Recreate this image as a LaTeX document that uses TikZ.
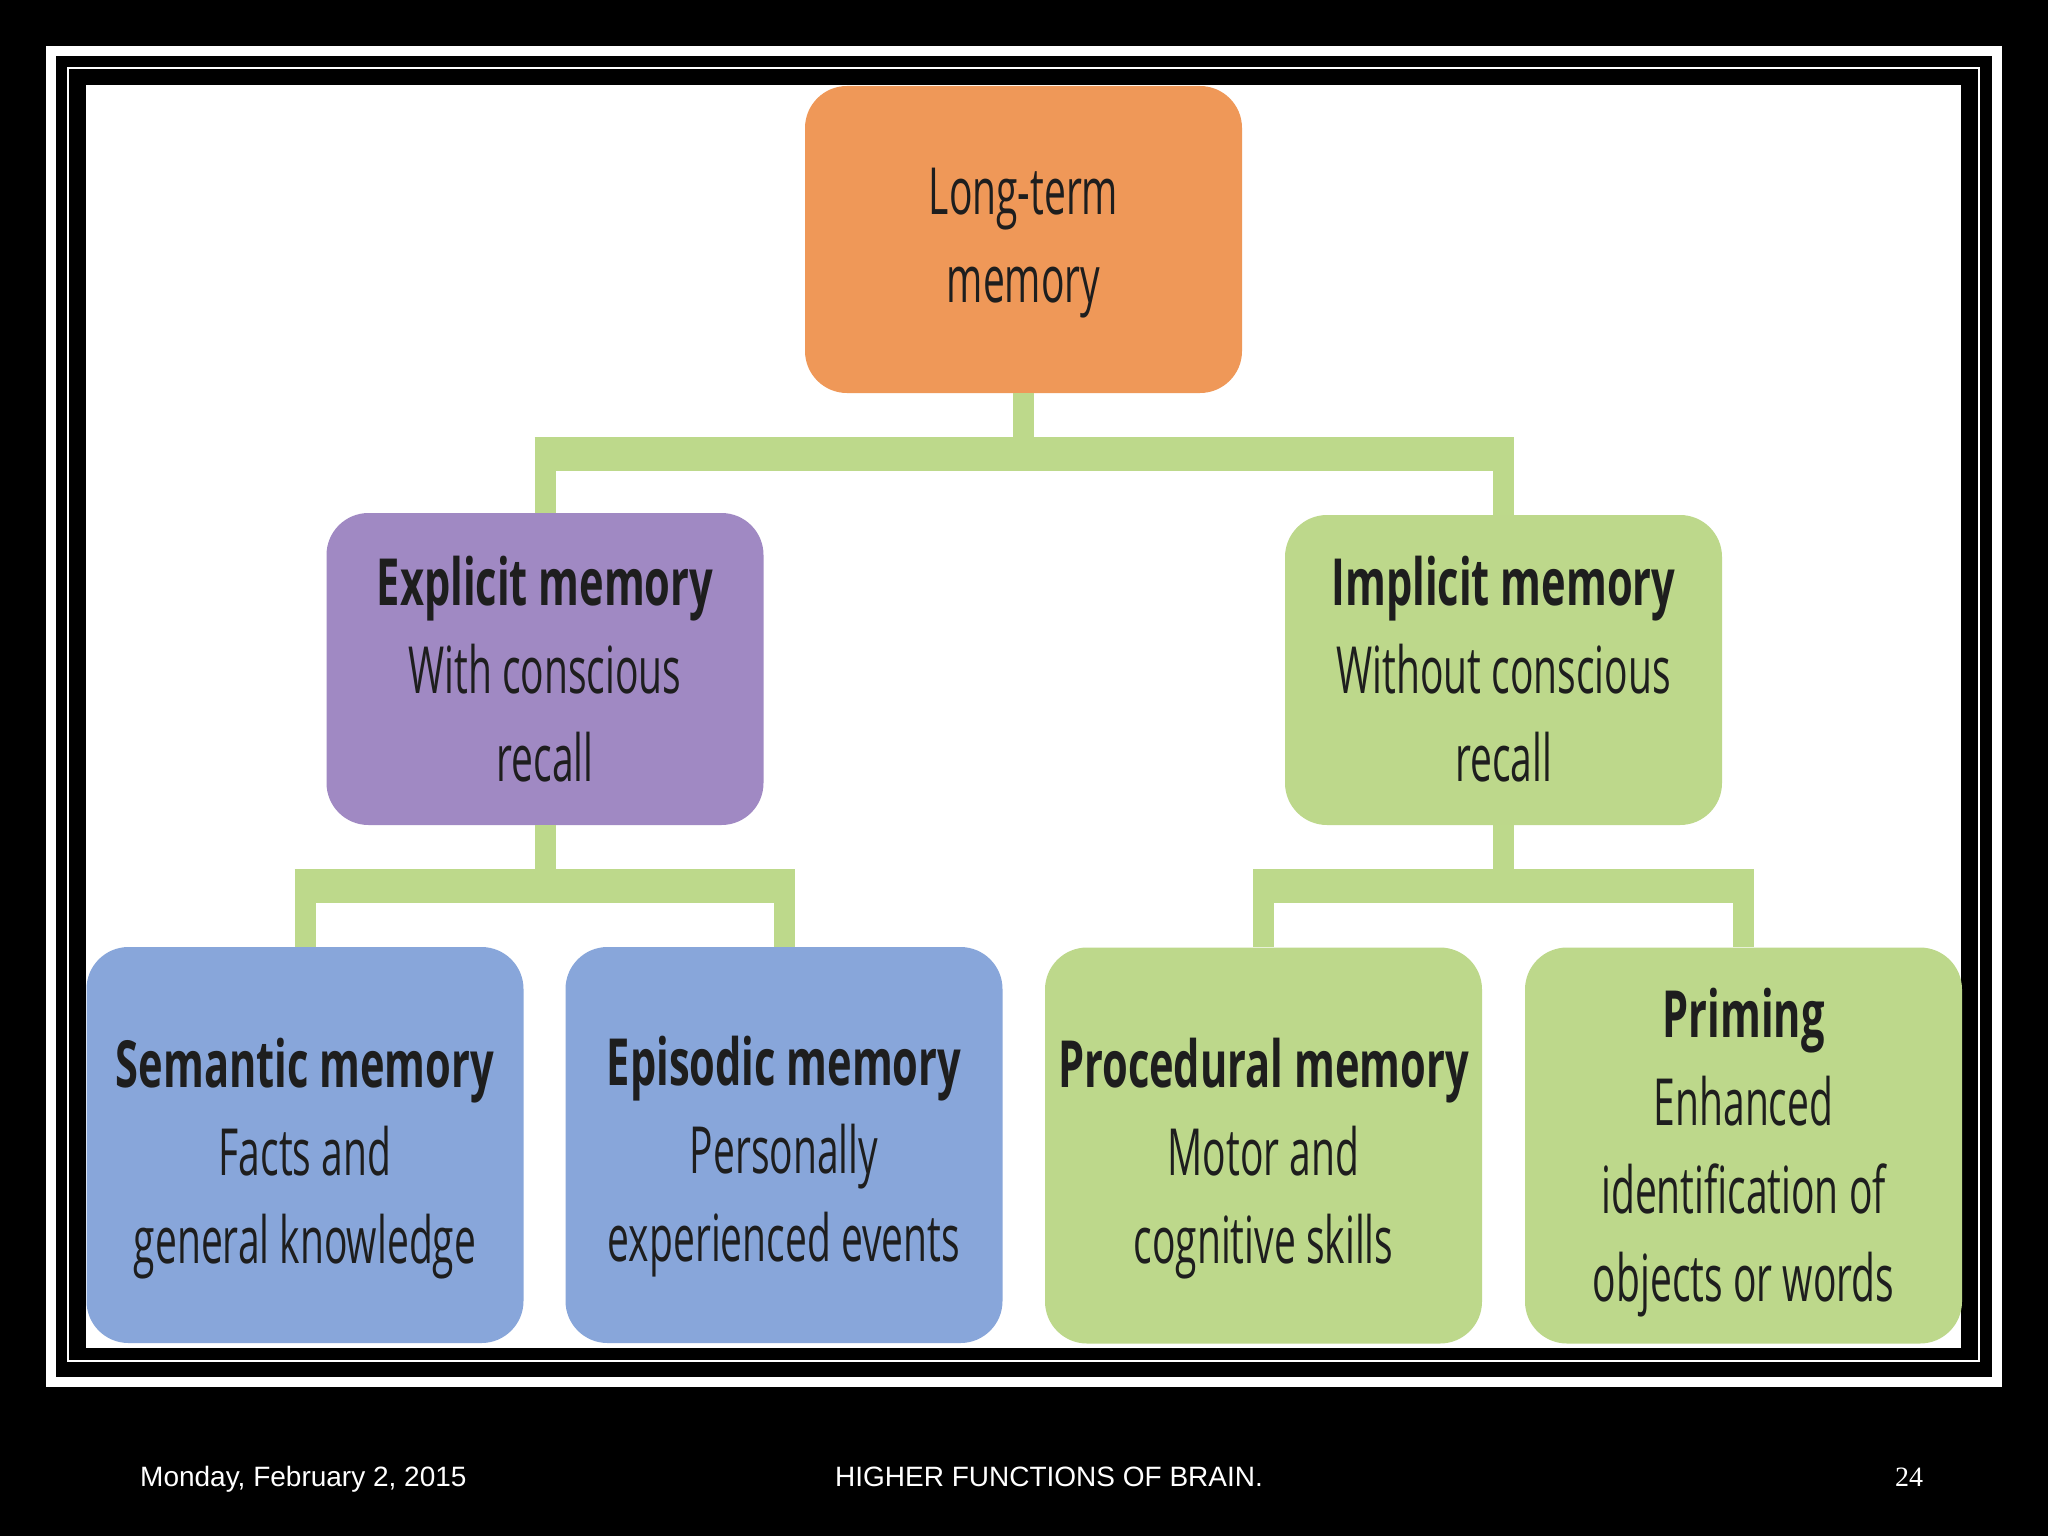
\documentclass[tikz,border=0pt]{standalone}
\usepackage{fontspec}
\setmainfont{Liberation Sans}
\newfontfamily\boxfont{Open Sans}[FakeStretch=0.6, BoldFeatures={FakeStretch=0.64}]
\newfontfamily\numfont{Liberation Serif}
\definecolor{ltorange}{HTML}{EF9858}
\definecolor{explpurple}{HTML}{A089C3}
\definecolor{implgreen}{HTML}{BDD88B}
\definecolor{subblue}{HTML}{88A6DA}
\definecolor{linkgreen}{HTML}{BDD98B}
\definecolor{textdark}{HTML}{1E1E1E}
% struts that fix the first baseline and the last depth of a box text
\newcommand{\memtop}[1]{\rule{0pt}{#1pt}}
\newcommand{\membot}{\rule[-20pt]{0pt}{0pt}}
\begin{document}
\begin{tikzpicture}[x=1pt,y=-1pt,
  memo/.style={rounded corners=42pt, inner sep=0pt, align=center, text=textdark,
    minimum width=437pt, font=\boxfont\fontsize{65}{88}\selectfont},
  stem/.style={draw=linkgreen, line width=21pt},
  bar/.style={draw=linkgreen, line width=34pt, shorten <=-10.5pt, shorten >=-10.5pt},
  foot/.style={text=white, inner sep=0pt, font=\fontsize{28}{32}\selectfont}]
% slide frame
\fill[black] (0,0) rectangle (2048,1536);
\draw[white, line width=10pt] (51,51) rectangle (1997,1382);
\draw[white, line width=2.5pt] (68,68) rectangle (1979,1361);
\fill[white] (86,85) rectangle (1961,1348);

% boxes
\node[memo, fill=ltorange, minimum height=307pt] (ltm) at (1023.5,239.5) {\memtop{57}Long-term\\memory\membot};
\node[memo, fill=explpurple, minimum height=312pt] (expl) at (545,669) {\memtop{69}\textbf{Explicit memory}\\With conscious\\recall\membot};
\node[memo, fill=implgreen, minimum height=310pt] (impl) at (1503.5,670) {\memtop{67}\textbf{Implicit memory}\\Without conscious\\recall\membot};
\node[memo, fill=subblue, minimum height=396pt] (sem) at (305,1145) {\memtop{80}\textbf{Semantic memory}\\Facts and\\general knowledge\membot};
\node[memo, fill=subblue, minimum height=396pt] (epi) at (784,1145) {\memtop{76}\textbf{Episodic memory}\\Personally\\experienced events\membot};
\node[memo, fill=implgreen, minimum height=396pt] (proc) at (1263.5,1145.5) {\memtop{80}\textbf{Procedural memory}\\Motor and\\cognitive skills\membot};
\node[memo, fill=implgreen, minimum height=396pt] (prim) at (1743.5,1145.5) {\memtop{68}\textbf{Priming}\\Enhanced\\identification of\\objects or words\membot};

% connectors
\coordinate (lvl1) at (0,453.5);
\coordinate (lvl2) at (0,885.5);
\draw[stem] (ltm.south) -- (ltm.south |- lvl1);
\draw[bar] (expl.north |- lvl1) -- (impl.north |- lvl1);
\foreach \n in {expl,impl}
  \draw[stem] (\n.north |- lvl1) -- (\n.north);
\draw[stem] (expl.south) -- (expl.south |- lvl2);
\draw[bar] (sem.north |- lvl2) -- (epi.north |- lvl2);
\draw[stem] (impl.south) -- (impl.south |- lvl2);
\draw[bar] (proc.north |- lvl2) -- (prim.north |- lvl2);
\foreach \n in {sem,epi,proc,prim}
  \draw[stem] (\n.north |- lvl2) -- (\n.north);

% footer
\node[foot, anchor=base west] (date) at (140,1486) {Monday, February 2, 2015};
\node[foot, anchor=base] (title) at (1049,1486) {HIGHER FUNCTIONS OF BRAIN.};
\node[foot, anchor=base west, font=\numfont\fontsize{28}{32}\selectfont] (pgno) at (1895,1486) {24};
\end{tikzpicture}
\end{document}
